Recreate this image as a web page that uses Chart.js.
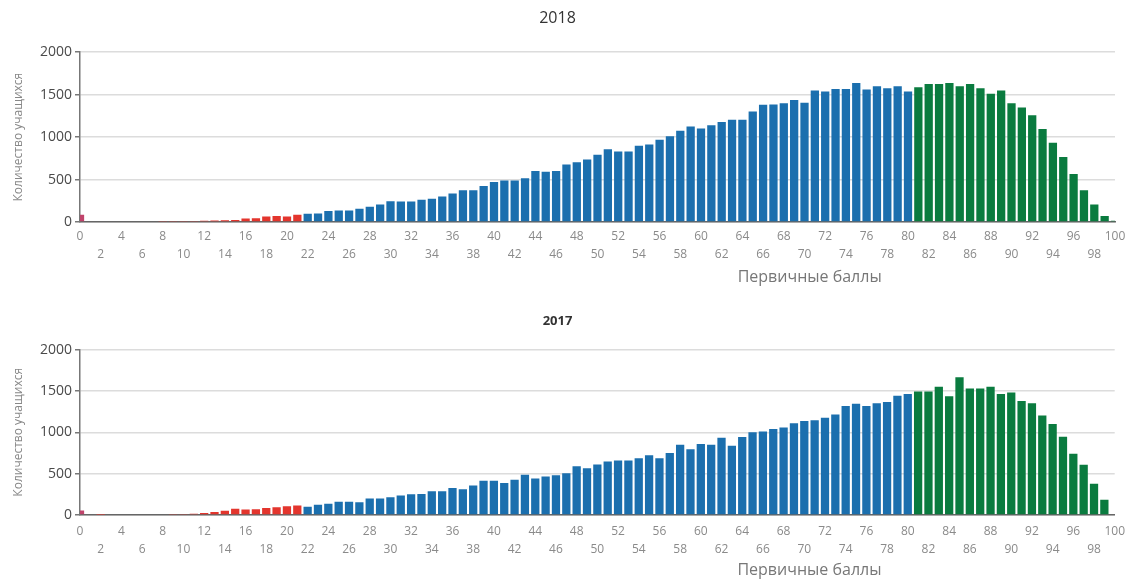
<!DOCTYPE html>
<html lang="ru">
<head>
<meta charset="utf-8">
<title>Первичные баллы 2018 / 2017</title>
<script src="https://cdn.jsdelivr.net/npm/chart.js@4.4.1/dist/chart.umd.min.js"></script>
<style>
	html, body { margin: 0; padding: 0; background: #fff; }
	.panel { width: 1133px; height: 293px; }
</style>
</head>
<body>
<div class="panel"><canvas id="chart-2018" width="1133" height="293"></canvas></div>
<div class="panel"><canvas id="chart-2017" width="1133" height="293"></canvas></div>
<script>
// primary scores 0..100
const scores = Array.from({ length: 101 }, (_, i) => String(i));

const students_2018 = [
	85, 0, 10, 10, 10, 0, 10, 10, 12, 12,
	12, 12, 15, 18, 20, 25, 40, 45, 65, 70,
	65, 85, 98, 100, 130, 135, 135, 155, 180, 205,
	245, 240, 240, 261, 273, 299, 337, 375, 375, 424,
	470, 489, 489, 515, 602, 591, 602, 678, 705, 735,
	792, 856, 830, 830, 898, 913, 970, 1011, 1076, 1125,
	1102, 1140, 1178, 1205, 1205, 1303, 1380, 1385, 1398, 1436,
	1405, 1549, 1538, 1568, 1568, 1636, 1561, 1599, 1576, 1599,
	1538, 1587, 1625, 1625, 1636, 1599, 1625, 1576, 1511, 1549,
	1398, 1349, 1258, 1095, 932, 765, 564, 375, 205, 72,
	15
];

const students_2017 = [
	55, 0, 3, 0, 8, 8, 10, 10, 10, 12,
	12, 15, 25, 35, 50, 75, 65, 70, 85, 95,
	105, 115, 100, 125, 135, 160, 160, 155, 200, 200,
	215, 235, 250, 255, 288, 288, 327, 312, 358, 415,
	415, 388, 427, 488, 442, 465, 481, 504, 588, 565,
	612, 646, 658, 658, 685, 723, 685, 750, 850, 796,
	858, 850, 935, 838, 942, 1000, 1011, 1040, 1058, 1108,
	1138, 1146, 1177, 1215, 1319, 1346, 1319, 1350, 1365, 1442,
	1462, 1492, 1492, 1550, 1435, 1665, 1531, 1531, 1550, 1462,
	1481, 1377, 1350, 1204, 1100, 946, 742, 608, 377, 185,
	0
];

const y_ticks = [0, 500, 1000, 1500, 2000];

// score bands: 0 | 1..21 | 22..80 | 81..100
const bar_color = (i) => {
	if (i === 0) return "#c0436b";
	if (i <= 21) return "#e3352d";
	if (i <= 80) return "#1b6fae";
	return "#0a7b3f";
};

// labels on two rows: 0,4,8.. on the first, 2,6,10.. on the second
const x_label = (i) => {
	if (i % 4 === 0) return String(i);
	if (i % 2 === 0) return ["", String(i)];
	return "";
};

Chart.defaults.font.family = '"Open Sans", "Noto Sans", sans-serif';
Chart.defaults.animation = false;

const axis_caption = {
	id: "axisCaption",
	afterDraw(chart, args, opts) {
		const { ctx, chartArea } = chart;
		ctx.save();
		ctx.font = opts.font;
		ctx.fillStyle = opts.color;
		ctx.textAlign = "center";
		ctx.textBaseline = "middle";
		ctx.fillText(opts.text, chartArea.left + chartArea.width * opts.at, chartArea.bottom + opts.offset);
		ctx.restore();
	}
};

let make_chart = (elem, values, title, title_font, title_padding, tick_padding, bottom_padding) => {
	const config = {
		type: "bar",
		data: {
			labels: scores,
			datasets: [
				{
					data: values,
					backgroundColor: values.map((_, i) => bar_color(i)),
					categoryPercentage: 1,
					barPercentage: 0.8
				}
			]
		},
		options: {
			responsive: false,
			layout: {
				padding: { top: 0, right: 18, bottom: bottom_padding, left: 0 }
			},
			plugins: {
				legend: { display: false },
				tooltip: { enabled: false },
				title: {
					display: true,
					text: title,
					color: "#333",
					font: title_font,
					padding: title_padding
				},
				axisCaption: {
					text: "Первичные баллы",
					font: '16px "Open Sans", sans-serif',
					color: "#777",
					at: 0.705,
					offset: 55
				}
			},
			scales: {
				x: {
					offset: false,
					grid: { display: false, drawTicks: false },
					border: { display: true, color: "#666", width: 1.5 },
					ticks: {
						autoSkip: false,
						maxRotation: 0,
						minRotation: 0,
						padding: tick_padding,
						color: "#8a8a8a",
						font: { size: 12, lineHeight: 1.5 },
						callback: (value, index) => x_label(index)
					}
				},
				y: {
					min: 0,
					max: 2000,
					afterFit: (scale) => { scale.width = 80; },
					afterBuildTicks: (scale) => { scale.ticks = y_ticks.map(v => ({ value: v })); },
					grid: {
						color: "#dcdcdc",
						lineWidth: 1.5,
						tickColor: "#777",
						tickLength: 5
					},
					border: { display: true, color: "#777", width: 1.5 },
					ticks: {
						padding: 3,
						color: "#4a4a4a",
						font: { size: 14 },
						callback: (value) => String(value)
					},
					title: {
						display: true,
						text: "Количество учащихся",
						color: "#888",
						font: { size: 12 },
						padding: { top: 11, bottom: 0 }
					}
				}
			}
		},
		plugins: [axis_caption]
	};

	return new Chart(elem, config);
};

make_chart(document.getElementById("chart-2018"), students_2018, "2018",
	{ size: 16, weight: "normal" }, { top: 9, bottom: 24 }, 6, 23);
make_chart(document.getElementById("chart-2017"), students_2017, "2017",
	{ size: 13, weight: "bold" }, { top: 20, bottom: 21 }, 8, 19);
</script>
</body>
</html>
